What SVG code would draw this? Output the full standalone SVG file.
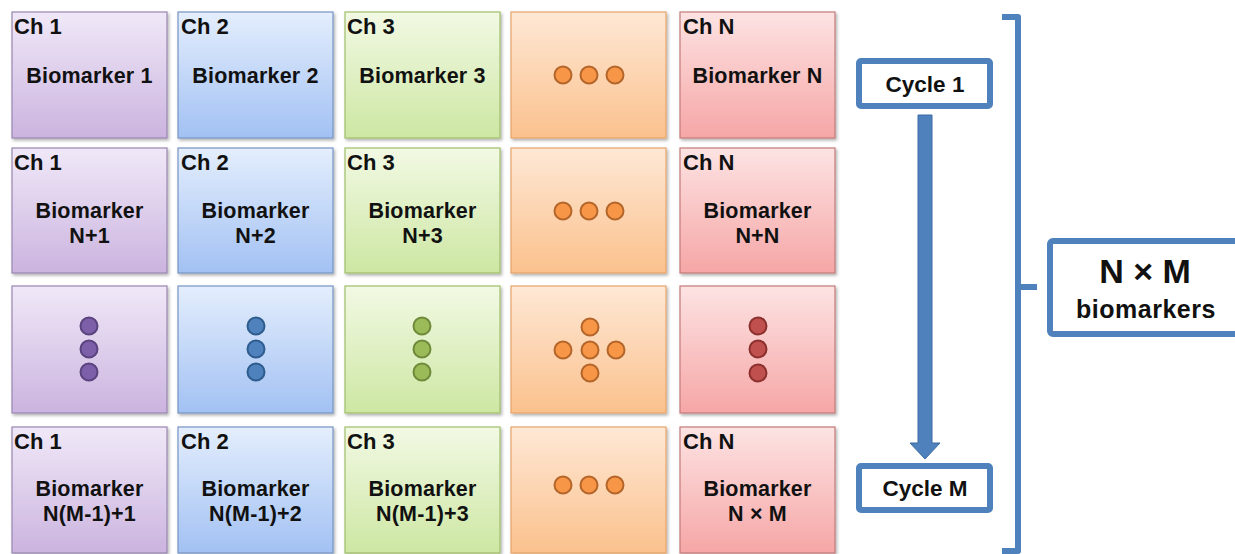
<svg xmlns="http://www.w3.org/2000/svg" width="1235" height="554" viewBox="0 0 1235 554">
<defs>
<linearGradient id="gP" x1="0" y1="0" x2="0" y2="1"><stop offset="0" stop-color="#f0e8f8"/><stop offset="1" stop-color="#cbb4df"/></linearGradient>
<linearGradient id="gB" x1="0" y1="0" x2="0" y2="1"><stop offset="0" stop-color="#e4eefd"/><stop offset="1" stop-color="#a2c1f3"/></linearGradient>
<linearGradient id="gG" x1="0" y1="0" x2="0" y2="1"><stop offset="0" stop-color="#f2f9e4"/><stop offset="1" stop-color="#cde7a3"/></linearGradient>
<linearGradient id="gO" x1="0" y1="0" x2="0" y2="1"><stop offset="0" stop-color="#fee8d5"/><stop offset="1" stop-color="#fbc18d"/></linearGradient>
<linearGradient id="gR" x1="0" y1="0" x2="0" y2="1"><stop offset="0" stop-color="#fde3e3"/><stop offset="1" stop-color="#f6a6a6"/></linearGradient>
<filter id="sh" x="-5%" y="-5%" width="115%" height="115%"><feDropShadow dx="1.5" dy="2" stdDeviation="1.5" flood-color="#000" flood-opacity="0.3"/></filter>
</defs>
<style>
.cell{stroke-width:1.2;filter:url(#sh)}
.p{fill:url(#gP);stroke:#9885b0}
.b{fill:url(#gB);stroke:#7594c4}
.g{fill:url(#gG);stroke:#9fbf6a}
.o{fill:url(#gO);stroke:#e6a36a}
.r{fill:url(#gR);stroke:#c47a7a}
text{font-family:"Liberation Sans",Arial,sans-serif;font-weight:bold;fill:#111}
.ch{font-size:22px}
.bm{font-size:21.5px;letter-spacing:0.2px;text-anchor:middle}
.dp{fill:#7d5ea8;stroke:#5b437f;stroke-width:2}
.db{fill:#4f81bd;stroke:#2e5c8e;stroke-width:2}
.dg{fill:#9bbb59;stroke:#6f8a3a;stroke-width:2}
.do{fill:#f79646;stroke:#b4652a;stroke-width:2}
.dr{fill:#c0504d;stroke:#8c302e;stroke-width:2}
.blue{fill:#fff;stroke:#4f81bd;stroke-width:6}
.cy{font-size:22.5px;text-anchor:middle}
</style>

<!-- Row 1 -->
<g id="r1c1"><rect class="cell p" x="12" y="12" width="155" height="126"/><text class="ch" x="14" y="34">Ch 1</text><text class="bm" x="89.5" y="83">Biomarker 1</text></g>
<g id="r1c2"><rect class="cell b" x="178" y="12" width="155" height="126"/><text class="ch" x="181" y="34">Ch 2</text><text class="bm" x="255.5" y="83">Biomarker 2</text></g>
<g id="r1c3"><rect class="cell g" x="345" y="12" width="155" height="126"/><text class="ch" x="347" y="34">Ch 3</text><text class="bm" x="422.5" y="83">Biomarker 3</text></g>
<g id="r1c4"><rect class="cell o" x="511" y="12" width="155" height="126"/><circle class="do" cx="563" cy="75" r="8.5"/><circle class="do" cx="589" cy="75" r="8.5"/><circle class="do" cx="615" cy="75" r="8.5"/></g>
<g id="r1c5"><rect class="cell r" x="680" y="12" width="155" height="126"/><text class="ch" x="683" y="34">Ch N</text><text class="bm" x="757.5" y="83">Biomarker N</text></g>

<!-- Row 2 -->
<g id="r2c1"><rect class="cell p" x="12" y="148" width="155" height="125"/><text class="ch" x="14" y="170">Ch 1</text><text class="bm" x="89.5" y="218">Biomarker</text><text class="bm" x="89.5" y="243">N+1</text></g>
<g id="r2c2"><rect class="cell b" x="178" y="148" width="155" height="125"/><text class="ch" x="181" y="170">Ch 2</text><text class="bm" x="255.5" y="218">Biomarker</text><text class="bm" x="255.5" y="243">N+2</text></g>
<g id="r2c3"><rect class="cell g" x="345" y="148" width="155" height="125"/><text class="ch" x="347" y="170">Ch 3</text><text class="bm" x="422.5" y="218">Biomarker</text><text class="bm" x="422.5" y="243">N+3</text></g>
<g id="r2c4"><rect class="cell o" x="511" y="148" width="155" height="125"/><circle class="do" cx="563" cy="211" r="8.5"/><circle class="do" cx="589" cy="211" r="8.5"/><circle class="do" cx="615" cy="211" r="8.5"/></g>
<g id="r2c5"><rect class="cell r" x="680" y="148" width="155" height="125"/><text class="ch" x="683" y="170">Ch N</text><text class="bm" x="757.5" y="218">Biomarker</text><text class="bm" x="757.5" y="243">N+N</text></g>

<!-- Row 3 -->
<g id="r3c1"><rect class="cell p" x="12" y="286" width="155" height="127"/><circle class="dp" cx="89" cy="326" r="8.5"/><circle class="dp" cx="89" cy="349" r="8.5"/><circle class="dp" cx="89" cy="372" r="8.5"/></g>
<g id="r3c2"><rect class="cell b" x="178" y="286" width="155" height="127"/><circle class="db" cx="256" cy="326" r="8.5"/><circle class="db" cx="256" cy="349" r="8.5"/><circle class="db" cx="256" cy="372" r="8.5"/></g>
<g id="r3c3"><rect class="cell g" x="345" y="286" width="155" height="127"/><circle class="dg" cx="422" cy="326" r="8.5"/><circle class="dg" cx="422" cy="349" r="8.5"/><circle class="dg" cx="422" cy="372" r="8.5"/></g>
<g id="r3c4"><rect class="cell o" x="511" y="286" width="155" height="127"/><circle class="do" cx="590" cy="327" r="8.5"/><circle class="do" cx="563" cy="350" r="8.5"/><circle class="do" cx="590" cy="350" r="8.5"/><circle class="do" cx="616" cy="350" r="8.5"/><circle class="do" cx="590" cy="373" r="8.5"/></g>
<g id="r3c5"><rect class="cell r" x="680" y="286" width="155" height="127"/><circle class="dr" cx="758" cy="326" r="8.5"/><circle class="dr" cx="758" cy="349" r="8.5"/><circle class="dr" cx="758" cy="373" r="8.5"/></g>

<!-- Row 4 -->
<g id="r4c1"><rect class="cell p" x="12" y="427" width="155" height="126"/><text class="ch" x="14" y="449">Ch 1</text><text class="bm" x="89.5" y="496">Biomarker</text><text class="bm" x="89.5" y="521">N(M-1)+1</text></g>
<g id="r4c2"><rect class="cell b" x="178" y="427" width="155" height="126"/><text class="ch" x="181" y="449">Ch 2</text><text class="bm" x="255.5" y="496">Biomarker</text><text class="bm" x="255.5" y="521">N(M-1)+2</text></g>
<g id="r4c3"><rect class="cell g" x="345" y="427" width="155" height="126"/><text class="ch" x="347" y="449">Ch 3</text><text class="bm" x="422.5" y="496">Biomarker</text><text class="bm" x="422.5" y="521">N(M-1)+3</text></g>
<g id="r4c4"><rect class="cell o" x="511" y="427" width="155" height="126"/><circle class="do" cx="563" cy="485" r="8.5"/><circle class="do" cx="589" cy="485" r="8.5"/><circle class="do" cx="615" cy="485" r="8.5"/></g>
<g id="r4c5"><rect class="cell r" x="680" y="427" width="155" height="126"/><text class="ch" x="683" y="449">Ch N</text><text class="bm" x="757.5" y="496">Biomarker</text><text class="bm" x="757.5" y="521">N × M</text></g>

<!-- Cycle boxes -->
<g id="cycle1"><rect class="blue" x="859" y="61" width="131" height="45" rx="2"/><text class="cy" x="925" y="92">Cycle 1</text></g>
<g id="cycleM"><rect class="blue" x="859" y="466" width="131" height="44" rx="2"/><text class="cy" x="925" y="496">Cycle M</text></g>

<!-- N x M box -->
<g id="total"><rect class="blue" x="1050" y="241" width="200" height="93" rx="3"/><text x="1145" y="283" style="font-size:34px;text-anchor:middle">N × M</text><text x="1146" y="318" style="font-size:25px;letter-spacing:0.5px;text-anchor:middle">biomarkers</text></g>

<!-- Connectors -->
<g id="connectors">
<path d="M918,115 H932 V443 H940 L925,459 L910,443 H918 Z" fill="#4f81bd" stroke="#3b6aa3" stroke-width="1"/>
<path d="M1002,17 H1018 V551 H1002 M1018,287 H1037" fill="none" stroke="#4f81bd" stroke-width="6" stroke-linejoin="round"/>
</g>
</svg>
